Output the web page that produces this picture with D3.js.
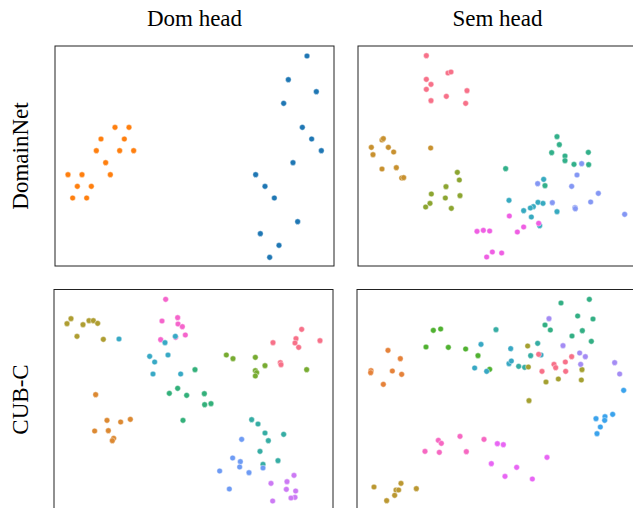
<!DOCTYPE html>
<html>
<head>
<meta charset="utf-8">
<script src="https://cdn.jsdelivr.net/npm/d3@7"></script>
<style>
  body { margin: 0; background: #fff; }
  text { font-family: "Liberation Serif", "Times New Roman", serif; fill: #000; }
</style>
</head>
<body>
<script>
// column / row labels
var colTitles = ['Dom head', 'Sem head'];
var rowTitles = ['DomainNet', 'CUB-C'];

// embedding coordinates (arbitrary units, y grows downward)
// --- DomainNet, Dom head
var dnDomColors = ['#ff7f0e', '#1f77b4'];
var dnDomPts = [
  [[195,261],[237,261],[153,296],[223,296],[139,331],[209,331],[251,331],[167,367],
   [54,403],[96,403],[181,403],[82,438],[124,438],[68,473],[110,473]],
  [[771,47],[715,118],[799,154],[701,189],[757,261],[785,296],[814,331],[729,367],
   [617,403],[645,438],[673,473],[743,544],[631,580],[687,615],[659,651]]
];

// --- DomainNet, Sem head
var dnSemColors = ['#f77189', '#c8912f', '#8ca531', '#32b08a', '#37aac0', '#8497f4', '#ef5fe3'];
var dnSemPts = [
  [[229,47],[294,99],[303,96],[229,118],[243,133],[229,148],[351,152],[243,182],[289,169],[347,190]],
  [[96,300],[100,296],[64,322],[115,322],[131,336],[69,344],[242,324],[139,383],[96,387],[155,414],[161,413]],
  [[322,397],[328,420],[288,440],[244,462],[330,467],[286,474],[240,490],[227,501],[304,505]],
  [[621,290],[628,314],[605,338],[715,337],[645,348],[645,362],[672,373],[716,374],[467,386],[585,437]],
  [[581,418],[477,481],[564,487],[579,490],[550,500],[541,504],[521,512],[621,515],[544,531],[569,557]],
  [[695,371],[681,405],[563,431],[665,439],[745,460],[607,488],[722,486],[675,503],[676,506],[824,523]],
  [[478,528],[566,550],[521,561],[502,576],[381,574],[400,571],[419,573],[427,636],[455,639],[410,651]]
];

// --- CUB-C, Dom head
var cubDomColors = ['#ae9d31', '#f565cc', '#38a9c5', '#33b07a', '#dc8932',
                    '#f77189', '#77ab31', '#36ada4', '#6e9bf4', '#cc7af4'];
var cubDomPts = [
  [[51,116],[63,101],[99,119],[117,107],[130,107],[143,115],[81,154],[160,163]],
  [[347,43],[336,108],[383,98],[384,117],[397,125],[332,164],[406,150]],
  [[376,154],[207,162],[345,173],[299,214],[314,231],[354,210],[309,267],[392,267]],
  [[435,254],[383,310],[358,325],[410,331],[463,326],[464,359],[483,356],[399,406]],
  [[137,329],[171,406],[212,411],[241,403],[134,438],[175,437],[191,460],[187,467]],
  [[755,133],[738,161],[735,174],[746,187],[669,173],[810,167],[691,233],[693,239]],
  [[529,210],[549,221],[616,217],[645,242],[616,257],[620,263],[616,273],[770,254]],
  [[605,404],[624,417],[645,444],[701,448],[655,467],[630,499],[684,527],[639,538]],
  [[575,463],[548,519],[571,530],[569,546],[639,549],[509,558],[597,563],[538,612]],
  [[732,571],[711,590],[663,595],[709,613],[737,618],[735,637],[723,639],[668,648]]
];
// one magenta point drawn on top of the cyan one
cubDomPts[1].push([377,157]);

// --- CUB-C, Sem head
var cubSemColors = ['#e5823a', '#50b131', '#33af84', '#36ada4', '#38a8c4', '#a4a031',
                    '#f77189', '#a48cf4', '#3ba3ec', '#f668c2', '#e866f4', '#bb9832'];
var cubSemPts = [
  [[114,196],[151,221],[127,258],[155,268],[63,257],[62,263],[100,298]],
  [[250,136],[272,132],[228,186],[295,187],[347,192],[384,212],[419,253]],
  [[633,54],[718,43],[683,93],[729,102],[585,120],[601,135],[697,137],[666,153],[724,169]],
  [[438,134],[563,175],[542,212],[524,247],[506,244]],
  [[393,178],[374,249],[410,259],[482,191],[477,236],[484,228],[573,210]],
  [[533,183],[535,246],[588,291],[625,282],[696,254],[694,285],[537,347]],
  [[566,208],[612,238],[617,248],[646,231],[665,215],[647,259],[576,259]],
  [[597,101],[639,182],[689,204],[706,215],[692,238],[794,233],[809,267]],
  [[821,316],[788,388],[765,395],[764,406],[738,401],[751,426],[741,446]],
  [[265,466],[274,475],[225,499],[268,502],[330,454],[349,500],[402,463]],
  [[442,476],[460,479],[424,536],[500,547],[465,574],[547,582],[591,517]],
  [[72,606],[138,615],[146,615],[153,595],[134,631],[110,647],[199,611]]
];

// ========================= layout =========================
var W = 633, H = 508;
var panelW = 279, panelH = 220;
var panels = [
  {x: 55,  y: 46,  xd: [15, 852], yd: [17, 677],   colors: dnDomColors,  pts: dnDomPts},
  {x: 358, y: 46,  xd: [24, 861], yd: [18, 678],   colors: dnSemColors,  pts: dnSemPts},
  {x: 54,  y: 289.5, xd: [12, 849], yd: [13.5, 673.5], colors: cubDomColors, pts: cubDomPts},
  {x: 357, y: 289.5, xd: [21, 858], yd: [13.5, 673.5], colors: cubSemColors, pts: cubSemPts}
];

var svg = d3.select('body').append('svg').attr('width', W).attr('height', H);

panels.forEach(function(p){
  var sx = d3.scaleLinear().domain(p.xd).range([0, panelW]);
  var sy = d3.scaleLinear().domain(p.yd).range([0, panelH]);
  var g = svg.append('g').attr('transform', 'translate(' + p.x + ',' + p.y + ')');

  p.pts.forEach(function(cls, i){
    g.selectAll(null).data(cls).enter().append('circle')
      .attr('cx', d => sx(d[0]))
      .attr('cy', d => sy(d[1]))
      .attr('r', 2.8)
      .style('fill', p.colors[i])
      .style('stroke', '#fff')
      .style('stroke-width', 0.4);
  });

  g.append('rect')
    .attr('x', 0).attr('y', 0)
    .attr('width', panelW).attr('height', panelH)
    .style('fill', 'none')
    .style('stroke', '#222')
    .style('stroke-width', 1);
});

// column titles
svg.selectAll('.coltitle').data(colTitles).enter().append('text')
  .attr('class', 'coltitle')
  .attr('x', (d, i) => panels[i].x + panelW / 2)
  .attr('y', 26)
  .attr('text-anchor', 'middle')
  .style('font-size', '23px')
  .text(d => d);

// row titles
svg.selectAll('.rowtitle').data(rowTitles).enter().append('text')
  .attr('class', 'rowtitle')
  .attr('transform', (d, i) => 'translate(28,' + (panels[i * 2].y + panelH / 2) + ') rotate(-90)')
  .attr('text-anchor', 'middle')
  .style('font-size', '23px')
  .text(d => d);
</script>
</body>
</html>
